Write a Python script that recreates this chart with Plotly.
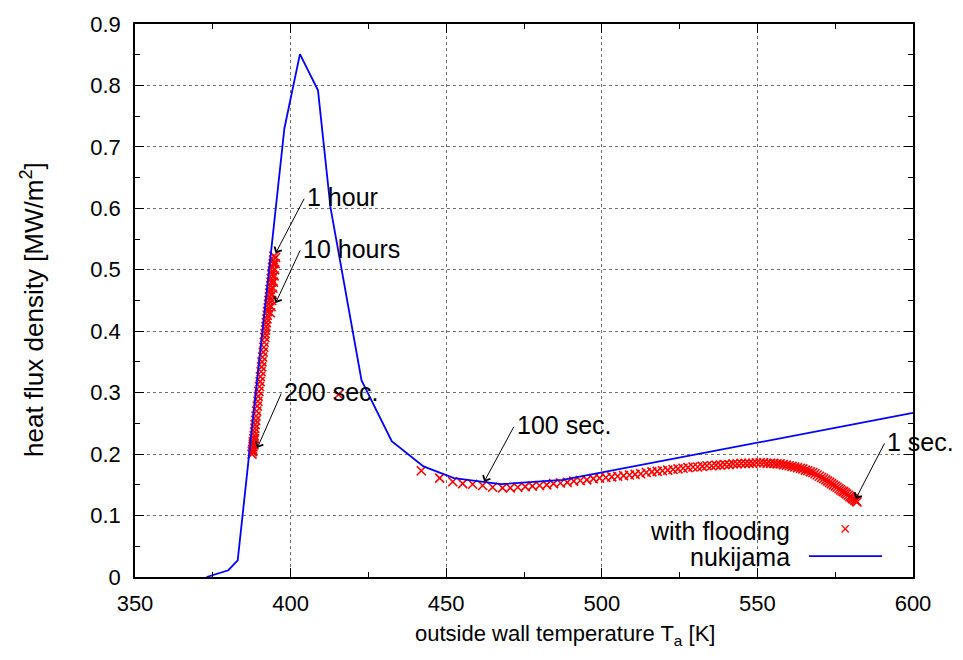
import plotly.graph_objects as go

# ---------------- data ----------------
nuki_T = [373, 380, 383, 398, 403, 408.8, 412.8, 422.8, 432.5, 442.7, 452.5, 467.5, 487.5, 600]
nuki_q = [0.0, 0.011, 0.027, 0.730, 0.851, 0.792, 0.602, 0.320, 0.221, 0.180, 0.161, 0.151, 0.158, 0.267]

# cluster of late-time points (200 sec ... 10 hours)
flood_T_cluster = [387.6, 387.7, 387.8, 387.9, 388.0, 388.0, 388.2, 388.3, 388.4, 388.5,
                   388.6, 388.8, 388.9, 389.1, 389.3, 389.5, 389.6, 389.8, 390.0, 390.2,
                   390.3, 390.5, 390.7, 390.8, 391.0, 391.2, 391.4, 391.5, 391.7, 391.8,
                   392.0, 392.1, 392.2, 392.4, 392.5, 392.6, 392.8, 392.9, 393.0, 393.2,
                   393.3, 393.4, 393.6, 393.7, 393.8, 394.0, 394.1, 394.2, 394.4, 394.5,
                   394.6, 393.5, 393.7, 393.9, 394.1, 394.3, 394.5, 394.7, 394.9, 395.0,
                   395.2, 387.9, 388.2, 388.4]
flood_q_cluster = [0.200, 0.204, 0.208, 0.212, 0.216, 0.220, 0.225, 0.230, 0.236, 0.242,
                   0.248, 0.255, 0.262, 0.270, 0.278, 0.286, 0.294, 0.302, 0.310, 0.318,
                   0.326, 0.334, 0.342, 0.350, 0.358, 0.366, 0.374, 0.382, 0.390, 0.396,
                   0.402, 0.408, 0.414, 0.420, 0.426, 0.432, 0.438, 0.444, 0.450, 0.456,
                   0.462, 0.468, 0.474, 0.480, 0.486, 0.492, 0.498, 0.504, 0.510, 0.516,
                   0.522, 0.430, 0.440, 0.450, 0.460, 0.470, 0.480, 0.490, 0.500, 0.510,
                   0.520, 0.205, 0.215, 0.225]

# early-time points (1 sec ... 200 sec)
flood_T_main = [415.4, 442.0, 447.9, 452.1, 455.3, 458.5, 461.7, 464.9, 468.1, 470.6,
                473.0, 475.4, 477.7, 480.0, 482.3, 484.5, 486.7, 488.9, 491.0, 493.1,
                495.2, 497.3, 499.3, 501.3, 503.2, 505.1, 507.0, 508.9, 510.7, 512.5,
                514.3, 516.1, 517.8, 519.5, 521.2, 522.9, 524.5, 526.1, 527.7, 529.3,
                530.8, 532.3, 533.8, 535.3, 536.7, 538.1, 539.5, 540.9, 542.2, 543.5,
                544.8, 546.1, 547.3, 548.5, 549.7, 550.9, 552.0, 553.1, 554.2, 555.3,
                556.3, 557.3, 558.3, 559.3, 560.2, 561.1, 562.0, 562.9, 563.8, 564.6,
                565.4, 566.2, 567.0, 567.8, 568.5, 569.2, 569.9, 570.6, 571.3, 572.0,
                572.6, 573.2, 573.8, 574.4, 575.0, 575.6, 576.2, 576.7, 577.2, 577.7,
                578.2, 578.7, 579.2, 579.7, 580.1, 580.5, 580.9, 581.3, 581.7, 582.0]
flood_q_main = [0.297, 0.173, 0.161, 0.155, 0.152, 0.151, 0.149, 0.146, 0.145, 0.145,
                0.146, 0.147, 0.148, 0.149, 0.150, 0.152, 0.153, 0.154, 0.156, 0.157,
                0.158, 0.160, 0.161, 0.162, 0.163, 0.164, 0.165, 0.166, 0.167, 0.168,
                0.170, 0.171, 0.172, 0.173, 0.174, 0.175, 0.176, 0.177, 0.178, 0.179,
                0.179, 0.180, 0.181, 0.181, 0.182, 0.182, 0.183, 0.183, 0.184, 0.184,
                0.185, 0.185, 0.185, 0.185, 0.186, 0.186, 0.186, 0.185, 0.185, 0.185,
                0.184, 0.184, 0.183, 0.182, 0.181, 0.180, 0.179, 0.178, 0.177, 0.176,
                0.174, 0.173, 0.171, 0.170, 0.168, 0.166, 0.164, 0.162, 0.160, 0.158,
                0.156, 0.154, 0.152, 0.150, 0.148, 0.146, 0.144, 0.142, 0.140, 0.139,
                0.137, 0.135, 0.133, 0.131, 0.130, 0.128, 0.127, 0.125, 0.124, 0.122]

flood_T = flood_T_cluster + flood_T_main
flood_q = flood_q_cluster + flood_q_main

# annotation labels: (text, tip T, tip q, tail T, tail q)
labels = [
    ("1 hour",   395.2, 0.527, 404.6, 0.618),
    ("10 hours", 395.2, 0.446, 403.3, 0.534),
    ("200 sec.", 389.3, 0.210, 397.2, 0.301),
    ("100 sec.", 462.2, 0.155, 472.0, 0.247),
    ("1 sec.",   581.6, 0.127, 591.1, 0.220),
]

FONT = "Liberation Sans, Arial, Helvetica, sans-serif"
FS = 25
TICK_FS = 22

fig = go.Figure()
fig.add_trace(go.Scatter(
    x=flood_T, y=flood_q, mode="markers", name="with flooding",
    marker=dict(symbol="x-thin", size=9, line=dict(color="#ff0000", width=1.6), color="#ff0000"),
    showlegend=False, cliponaxis=True))
fig.add_trace(go.Scatter(
    x=nuki_T, y=nuki_q, mode="lines", name="nukijama",
    line=dict(color="#0000ff", width=1.8), showlegend=False))

for text, tx, tq, ax_, aq in labels:
    fig.add_annotation(x=tx, y=tq, ax=ax_, ay=aq, xref="x", yref="y", axref="x", ayref="y",
                       text="", showarrow=True, arrowhead=4, arrowsize=1.6, arrowwidth=1,
                       arrowcolor="black", standoff=0, startstandoff=0)
    fig.add_annotation(x=ax_, y=aq, xref="x", yref="y", text=text, showarrow=False,
                       xanchor="left", yanchor="middle", xshift=0,
                       font=dict(family=FONT, size=FS, color="black"))

# manual gnuplot-style key (text right, sample left)
fig.add_annotation(x=0.8445, y=0.084, xref="paper", yref="paper", text="with flooding",
                   showarrow=False, xanchor="right", yanchor="middle",
                   font=dict(family=FONT, size=FS, color="black"))
fig.add_annotation(x=0.8445, y=0.036, xref="paper", yref="paper", text="nukijama",
                   showarrow=False, xanchor="right", yanchor="middle",
                   font=dict(family=FONT, size=FS, color="black"))
fig.add_annotation(x=0.9126, y=0.0877, xref="paper", yref="paper", text="×",
                   showarrow=False, xanchor="center", yanchor="middle",
                   font=dict(family=FONT, size=18, color="#ff0000"))
fig.add_shape(type="line", xref="paper", yref="paper", x0=0.8663, x1=0.9602,
              y0=0.0376, y1=0.0376, line=dict(color="#0000ff", width=1.8))

# axis titles (placed like the gnuplot original)
fig.add_annotation(x=0.553, y=-0.105, xref="paper", yref="paper",
                   text="outside wall temperature T<sub>a</sub> [K]", showarrow=False,
                   xanchor="center", yanchor="middle",
                   font=dict(family=FONT, size=22, color="black"))
fig.add_annotation(x=-0.131, y=0.483, xref="paper", yref="paper",
                   text="heat flux density [MW/m<sup>2</sup>]", showarrow=False, textangle=-90,
                   xanchor="center", yanchor="middle",
                   font=dict(family=FONT, size=26, color="black"))

axis_common = dict(
    showline=True, linecolor="black", linewidth=1.5, mirror="ticks",
    ticks="inside", ticklen=9, tickwidth=1.2, tickcolor="black",
    showgrid=True, gridcolor="#707070", griddash="dot", gridwidth=1,
    zeroline=False,
    tickfont=dict(family=FONT, size=TICK_FS, color="black"),
)

fig.update_xaxes(range=[350, 600], dtick=50, tick0=350,
                 minor=dict(dtick=25, ticks="inside", ticklen=5, tickcolor="black", showgrid=False),
                 ticklabelstandoff=6, **axis_common)
fig.update_yaxes(range=[0, 0.9], dtick=0.1, tick0=0,
                 minor=dict(dtick=0.05, ticks="inside", ticklen=5, tickcolor="black", showgrid=False),
                 ticklabelstandoff=8, **axis_common)

fig.update_layout(
    width=963, height=660,
    margin=dict(l=135, r=50, t=18, b=83),
    plot_bgcolor="white", paper_bgcolor="white",
    font=dict(family=FONT, size=FS, color="black"),
)

fig.write_html("out.html")
